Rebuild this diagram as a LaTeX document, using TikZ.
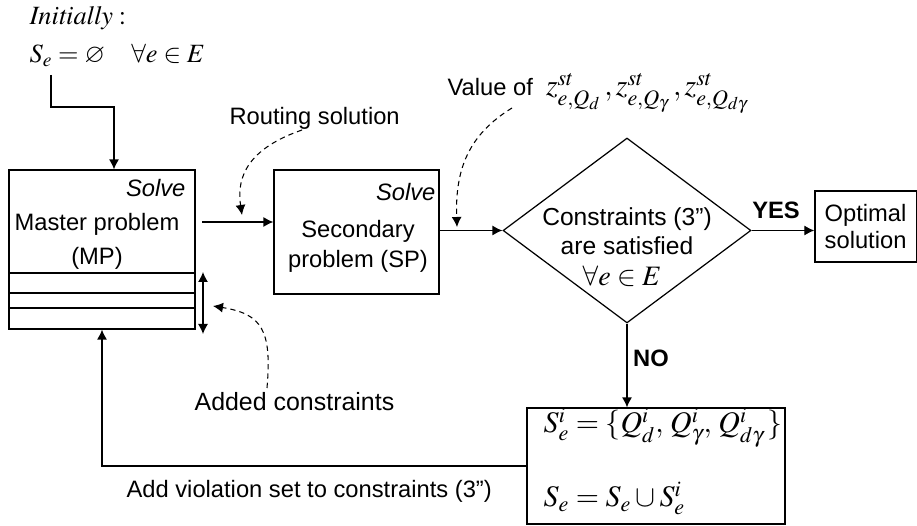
\documentclass[tikz,border=0pt]{standalone}
\usepackage{mathptmx}
\usepackage{amssymb}
\usepackage[no-math]{fontspec}
\setmainfont{Liberation Sans}
\usepackage{tikz}
\usetikzlibrary{shapes.geometric,arrows.meta,positioning,calc}

\begin{document}
\begin{tikzpicture}[x=0.02cm, y=-0.02cm, line width=0.7pt,
    box/.style={draw, rectangle, inner sep=0pt},
    lbl/.style={font=\fontsize{13.5}{17}\selectfont, align=center, inner sep=0pt},
    solve/.style={font=\fontsize{13.5}{16}\selectfont\itshape, anchor=east, inner sep=0pt},
    yesno/.style={font=\fontsize{13.5}{16}\selectfont\bfseries, inner sep=0pt},
    mth/.style={font=\fontsize{16}{18}\selectfont, inner sep=0pt},
    arr/.style={-{Latex[length=2mm,width=2mm]}},
    arrboth/.style={{Latex[length=2mm,width=2mm]}-{Latex[length=2mm,width=2mm]}},
    hint/.style={line width=0.6pt, dash pattern=on 3pt off 2.3pt, -{Latex[length=2mm,width=2mm]}}]

    \useasboundingbox (0,0) rectangle (917,526);

    % initial state
    \node[anchor=base west, inner sep=0pt, font=\fontsize{15}{17}\selectfont] (initlbl) at (29,25) {$\mathit{Initially}:$};
    \node[anchor=base west, inner sep=0pt, font=\fontsize{15}{17}\selectfont] (init) at (29,63) {$S_e=\varnothing\quad\forall e\in E$};
    \coordinate (c0) at (51,75);
    \coordinate (c1) at (114,107);

    % master problem
    \node[box, minimum width=3.72cm, minimum height=3.18cm] (mp) at (102,249.5) {};
    \foreach \yy in {273,293,308}
        \draw (mp.west |- 0,\yy) -- (mp.east |- 0,\yy);
    \node[solve] (mpsolve) at (186,188) {Solve};
    \node[lbl, font=\fontsize{13.5}{19.5}\selectfont] (mptext) at (97,241) {Master problem\\(MP)};
    \draw[arr] (c0) |- (c1) -- (c1 |- mp.north);

    % secondary problem
    \node[box, minimum width=3.3cm, minimum height=2.48cm] (sp) at (356.5,232) {};
    \node[solve] (spsolve) at (436,192) {Solve};
    \node[lbl] (sptext) at (358,246) {Secondary\\problem (SP)};
    \coordinate (m1) at (202,222);
    \draw[arr] (m1) -- (m1 -| sp.west);

    % check
    \node[draw, diamond, minimum width=4.96cm, minimum height=3.7cm, inner sep=0pt] (dia) at (627,230.5) {};
    \node[lbl, font=\fontsize{14}{16.5}\selectfont] (diatext) at (627,231) {Constraints (3'')\\are satisfied};
    \node[mth] (diamath) at (622,276) {$\forall e\in E$};
    \draw[arr] (sp.east |- dia.west) -- (dia.west);

    % optimal
    \node[box, minimum width=2.026cm, minimum height=1.42cm, align=left, font=\fontsize{13.5}{15.4}\selectfont] (opt) at (865.6,226.5) {Optimal\\solution};
    \draw[arr] (dia.east) -- (dia.east -| opt.west);
    \node[yesno] (yes) at (776,210) {YES};

    % violation set
    \node[box, minimum width=5.16cm, minimum height=2.32cm] (upd) at (656,466) {};
    \node[mth, anchor=base west, font=\fontsize{17}{19}\selectfont] (upd1) at (543,433) {$S_e^i=\{Q_d^i,\,Q_\gamma^i,\,Q_{d\gamma}^i\,\}$};
    \node[mth, anchor=base west, font=\fontsize{17}{19}\selectfont] (upd2) at (543,507) {$S_e=S_e\cup S_e^i$};
    \draw[arr] (dia.south) -- (dia.south |- upd.north);
    \node[yesno] (no) at (651,358) {NO};

    % feedback
    \draw[arr] (upd.west) -| (mp.south);
    \node[lbl, anchor=west] (addlbl2) at (126,491) {Add violation set to constraints (3'')};
    \coordinate (dt) at (203,272);
    \coordinate (db) at (203,334);
    \draw[arrboth] (dt) -- (db);

    % hints
    \node[lbl, anchor=west] (routlbl) at (229,118) {Routing solution};
    \coordinate (r0) at (302,130);
    \coordinate (r1) at (242,215);
    \draw[hint] (r0) .. controls (250,148) and (236,175) .. (r1);

    \node[anchor=base west, lbl] (vallbl) at (447,96) {Value of\ \ {\fontsize{17}{19}\selectfont$z^{st}_{e,Q_d}\,,z^{st}_{e,Q_\gamma}\,,z^{st}_{e,Q_{d\gamma}}$}};
    \coordinate (v0) at (512,108);
    \coordinate (v1) at (457,227);
    \draw[hint] (v0) .. controls (468,135) and (455,170) .. (v1);

    \node[anchor=west, inner sep=0pt, font=\fontsize{14.2}{16}\selectfont] (addlbl) at (194,402) {Added constraints};
    \coordinate (a0) at (267,388);
    \coordinate (a1) at (213,306);
    \draw[hint] (a0) .. controls (272,330) and (262,314) .. (a1);
\end{tikzpicture}
\end{document}
